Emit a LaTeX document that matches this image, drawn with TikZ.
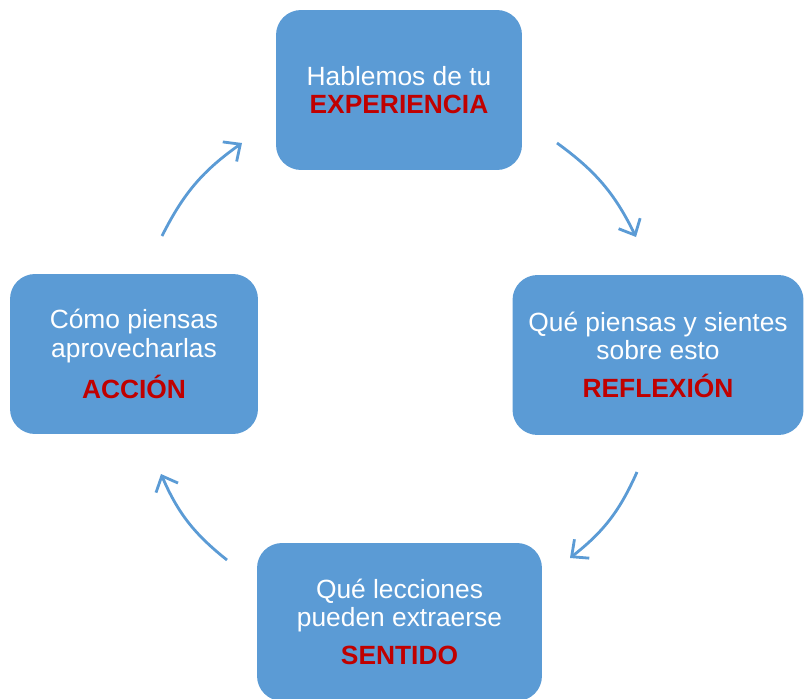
\documentclass[tikz,border=0pt]{standalone}
\usepackage{fontspec}
\setmainfont{Liberation Sans}
\usepackage{xcolor}
\usetikzlibrary{arrows.meta}
\definecolor{cycleblue}{RGB}{91,155,213}
\definecolor{cyclered}{RGB}{192,0,0}

\begin{document}
\begin{tikzpicture}[x=0.02cm,y=0.02cm,
        cyclebox/.style={fill=cycleblue,rounded corners=0.5cm,text=white,align=center,
            inner sep=0pt,minimum height=3.2cm,font=\fontsize{15}{16}\selectfont},
        cyclekey/.style={text=cyclered,font=\fontsize{15}{16}\selectfont\bfseries},
        cyclearrow/.style={draw=cycleblue,line width=1.6pt,
            -{Straight Barb[length=2.6mm,width=4.8mm]}}]
        \newcommand{\figcyclekey}[1]{{\color{cyclered}\bfseries #1}}
        \useasboundingbox (0,0) rectangle (805,698);
        \node[cyclebox,minimum width=4.92cm] (exp) at (399,608)
            {Hablemos de tu\\\figcyclekey{EXPERIENCIA}};
        \node[cyclebox,minimum width=5.82cm] (ref) at (658,343)
            {Qué piensas y sientes\\sobre esto\\[6pt]\figcyclekey{REFLEXIÓN}};
        \node[cyclebox,minimum width=5.7cm,minimum height=3.16cm] (sen) at (399.5,76)
            {Qué lecciones\\pueden extraerse\\[6pt]\figcyclekey{SENTIDO}};
        \node[cyclebox,minimum width=4.96cm] (acc) at (134,344)
            {Cómo piensas\\aprovecharlas\\[6pt]\figcyclekey{ACCIÓN}};
        \coordinate (expout) at (557,555);
        \coordinate (refin) at (636,461);
        \coordinate (refout) at (637,226);
        \coordinate (senin) at (570,140);
        \coordinate (senout) at (227,138);
        \coordinate (accin) at (161,224);
        \coordinate (accout) at (162,462);
        \coordinate (expin) at (242,555);
        \draw[cyclearrow] (expout) to[bend left=14] (refin);
        \draw[cyclearrow] (refout) to[bend left=14] (senin);
        \draw[cyclearrow] (senout) to[bend left=14] (accin);
        \draw[cyclearrow] (accout) to[bend left=14] (expin);
    \end{tikzpicture}
\end{document}
